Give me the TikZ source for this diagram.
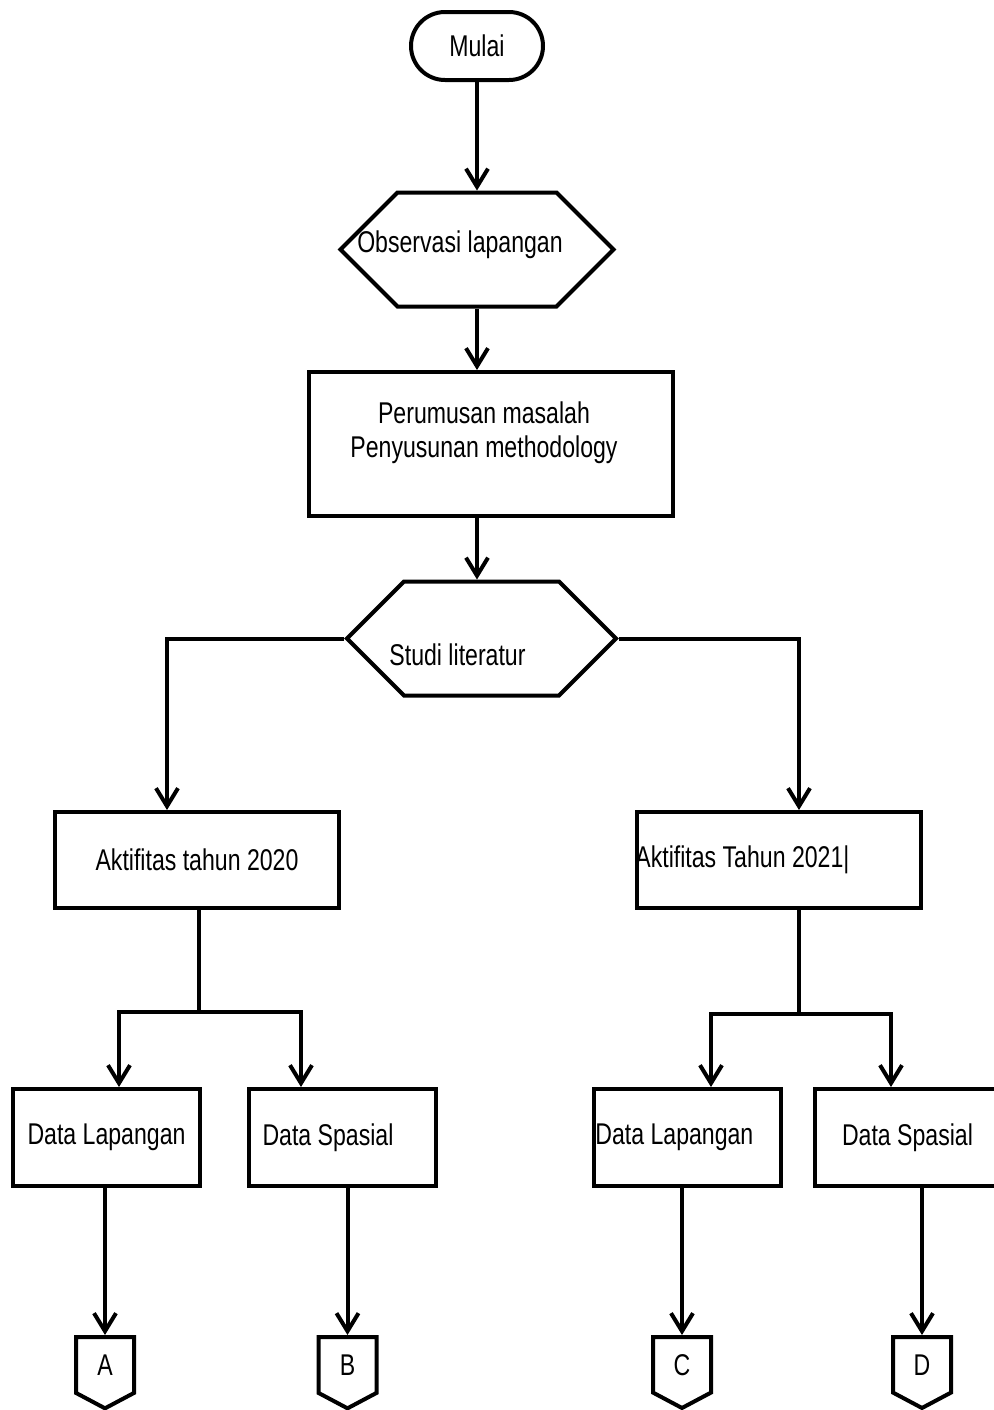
\documentclass[tikz,border=0pt]{standalone}
\usepackage{fontspec}
\setmainfont[FakeStretch=0.77]{Liberation Sans}
\usetikzlibrary{arrows.meta,positioning,shapes.misc,shapes.symbols,calc}

\begin{document}
\begin{tikzpicture}[x=0.5pt,y=-0.5pt,
    font=\fontsize{15}{17}\selectfont,
    base/.style={draw, line width=2pt, inner sep=0pt},
    terminal/.style={base, rounded rectangle, minimum width=66pt, minimum height=34pt},
    hexa/.style={base, signal, signal to=west and east, signal pointer angle=90, minimum height=57pt},
    proc/.style={base, rectangle, minimum width=142pt, minimum height=48pt},
    datab/.style={base, rectangle, minimum width=93.5pt, minimum height=48.5pt},
    offpage/.style={base, signal, signal to=south, signal pointer angle=124, minimum width=29pt, minimum height=30pt, anchor=north},
    link/.style={line width=2pt},
    arr/.style={-{Straight Barb[length=9pt,width=11pt]}, line width=2pt}]
  \useasboundingbox (0,0) rectangle (993,1410);

  % main column
  \node[terminal] (mulai) at (477,46) {Mulai};
  \node[hexa, minimum width=136.5pt,
        label={[xshift=-8.5pt, yshift=2.5pt]center:Observasi lapangan}] (obs) at (477,249.5) {};
  \node[base, minimum width=182pt, minimum height=72pt,
        label={[align=center, xshift=-3.5pt, yshift=5.5pt]center:Perumusan masalah\\Penyusunan methodology}] (rumus) at (491,444) {};
  \node[hexa, minimum width=134.5pt,
        label={[xshift=-12pt, yshift=-8pt]center:Studi literatur}] (studi) at (481.5,638.5) {};

  % two years
  \node[proc] (akt20) at (197,860) {Aktifitas tahun 2020};
  \node[proc, label={[anchor=west, inner sep=0pt]west:Aktifitas Tahun 2021|}] (akt21) at (779,860) {};

  % data boxes
  \node[datab] (dl20) at (106.5,1137.5) {Data Lapangan};
  \node[datab, label={[xshift=-7pt]center:Data Spasial}] (ds20) at (342,1137.5) {};
  \node[datab, label={[anchor=west, inner sep=0pt, xshift=1.5pt]west:Data Lapangan}] (dl21) at (687.5,1137.5) {};
  \node[datab, minimum width=92.5pt] (ds21) at (907.5,1137.5) {Data Spasial};

  % off-page connectors
  \node[offpage] (A) at (105,1335) {A};
  \node[offpage] (B) at (347.5,1335) {B};
  \node[offpage] (C) at (682,1335) {C};
  \node[offpage] (D) at (922,1335) {D};

  \coordinate (j20) at (199,1012);
  \coordinate (j21) at (799,1014);

  \draw[arr] (mulai.south) -- (mulai.south |- obs.north);
  \draw[arr] (obs.south) -- (obs.south |- rumus.north);
  \draw[arr] (rumus.south -| obs) -- (studi.north -| obs);
  \draw[arr] (studi.west) -| ([xshift=-15pt]akt20.north);
  \draw[arr] (studi.east) -| ([xshift=10pt]akt21.north);

  \draw[link] (akt20.south -| j20) -- (j20);
  \draw[arr] (j20) -| ([xshift=6.25pt]dl20.north);
  \draw[arr] (j20) -| ([xshift=-20.5pt]ds20.north);
  \draw[link] (akt21.south -| j21) -- (j21);
  \draw[arr] (j21) -| ([xshift=11.75pt]dl21.north);
  \draw[arr] (j21) -| ([xshift=-8.25pt]ds21.north);

  \draw[arr] (A.north |- dl20.south) -- (A.north);
  \draw[arr] (B.north |- ds20.south) -- (B.north);
  \draw[arr] (C.north |- dl21.south) -- (C.north);
  \draw[arr] (D.north |- ds21.south) -- (D.north);
\end{tikzpicture}
\end{document}
